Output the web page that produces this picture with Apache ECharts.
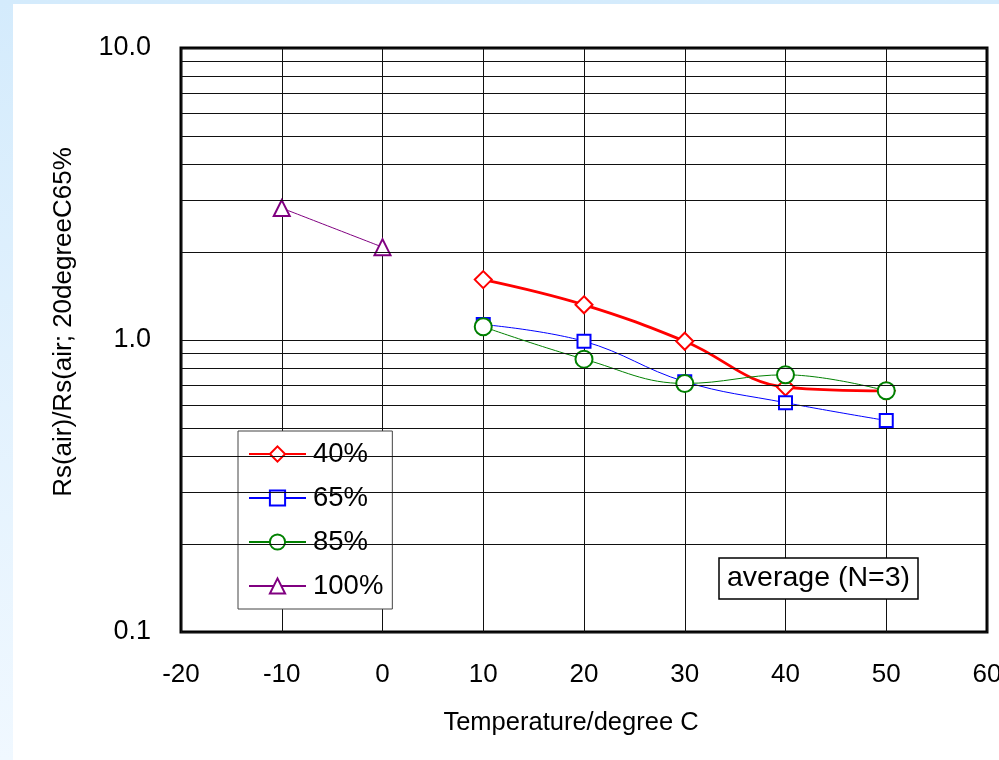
<!DOCTYPE html>
<html>
<head>
<meta charset="utf-8">
<script src="https://cdn.jsdelivr.net/npm/echarts@6/dist/echarts.min.js"></script>
<style>
html, body { margin: 0; padding: 0; width: 999px; height: 760px; overflow: hidden; }
body { background: linear-gradient(to bottom, #d4ebfc, #f0f8ff); position: relative; }
#panel { position: absolute; left: 13px; top: 4px; right: 0; bottom: 0; background: #fff; }
#chart { position: absolute; left: 0; top: 0; width: 999px; height: 760px; }
</style>
</head>
<body>
<div id="panel"></div>
<div id="chart"></div>
<script>
// temperatures (degree C)
var temps = [10, 20, 30, 40, 50];
var temps100 = [-10, 0];
// Rs ratio per humidity
var rh40 = [1.61, 1.32, 0.99, 0.69, 0.67];
var rh65 = [1.13, 0.99, 0.72, 0.61, 0.53];
var rh85 = [1.11, 0.86, 0.71, 0.76, 0.67];
var rh100 = [2.83, 2.08];
var names = ['40%', '65%', '85%', '100%'];
// log minor grid lines
var minorGrid = [0.2, 0.3, 0.4, 0.5, 0.6, 0.7, 0.8, 0.9, 2, 3, 4, 5, 6, 7, 8, 9];

var font = "'Liberation Sans', Arial, sans-serif";

function pairs(xs, ys) {
    return xs.map(function (x, i) { return [x, ys[i]]; });
}

function mkSeries(name, data, color, symbol, size, lw) {
    return {
        name: name,
        type: 'line',
        data: data,
        smooth: 0.4,
        symbol: symbol,
        symbolSize: size,
        lineStyle: { color: color, width: lw },
        itemStyle: { color: '#fff', borderColor: color, borderWidth: 2 }
    };
}

var chart = echarts.init(document.getElementById('chart'));
var s40 = mkSeries(names[0], pairs(temps, rh40), '#ff0000', 'diamond', 17, 2.8);
s40.markLine = {
    silent: true,
    symbol: 'none',
    label: { show: false },
    lineStyle: { color: '#111', width: 1, type: 'solid' },
    data: minorGrid.map(function (v) { return { yAxis: v }; })
};

var option = {
    animation: false,
    textStyle: { fontFamily: font },
    grid: {
        left: 181, top: 48, right: 12, bottom: 128,
        outerBoundsMode: 'none',
        containLabel: false,
        show: true, borderColor: '#000', borderWidth: 3
    },
    title: {
        text: 'average (N=3)',
        left: 719, top: 558,
        padding: [6, 8, 6, 8],
        borderColor: '#000', borderWidth: 1.5,
        backgroundColor: '#fff',
        textStyle: { fontFamily: font, fontSize: 28.5, fontWeight: 'normal', color: '#000' }
    },
    legend: {
        orient: 'vertical',
        left: 238, top: 431,
        padding: [9, 9, 9, 10],
        itemWidth: 57, itemHeight: 19, itemGap: 16,
        backgroundColor: '#fff',
        borderColor: '#444', borderWidth: 1,
        textStyle: { fontFamily: font, fontSize: 27.5, color: '#000', padding: [0, 0, 0, 2] },
        data: names
    },
    xAxis: {
        type: 'value',
        min: -20, max: 60, interval: 10,
        name: 'Temperature/degree C',
        nameLocation: 'middle',
        nameGap: 78,
        nameTextStyle: { fontFamily: font, fontSize: 25.5, color: '#000', padding: [0, 26, 0, 0] },
        axisLine: { show: false },
        axisTick: { show: false },
        axisLabel: { fontFamily: font, fontSize: 26, color: '#000', margin: 30 },
        splitLine: { lineStyle: { color: '#111', width: 1 } }
    },
    yAxis: {
        type: 'log',
        logBase: 10,
        min: 0.1, max: 10,
        name: 'Rs(air)/Rs(air; 20degreeC65%',
        nameLocation: 'middle',
        nameRotate: 90,
        nameGap: 104,
        nameTextStyle: { fontFamily: font, fontSize: 26, color: '#000', padding: [0, 0, 0, 36] },
        axisLine: { show: false },
        axisTick: { show: false },
        axisLabel: {
            fontFamily: font, fontSize: 27, color: '#000', margin: 30,
            formatter: function (v) { return Number(v).toFixed(1); }
        },
        splitLine: { lineStyle: { color: '#111', width: 1 } }
    },
    series: [
        s40,
        mkSeries(names[1], pairs(temps, rh65), '#0000ff', 'rect', 13, 1),
        mkSeries(names[2], pairs(temps, rh85), '#008000', 'circle', 17, 1),
        mkSeries(names[3], pairs(temps100, rh100), '#800080', 'triangle', 16, 1)
    ]
};
chart.setOption(option);
</script>
</body>
</html>
